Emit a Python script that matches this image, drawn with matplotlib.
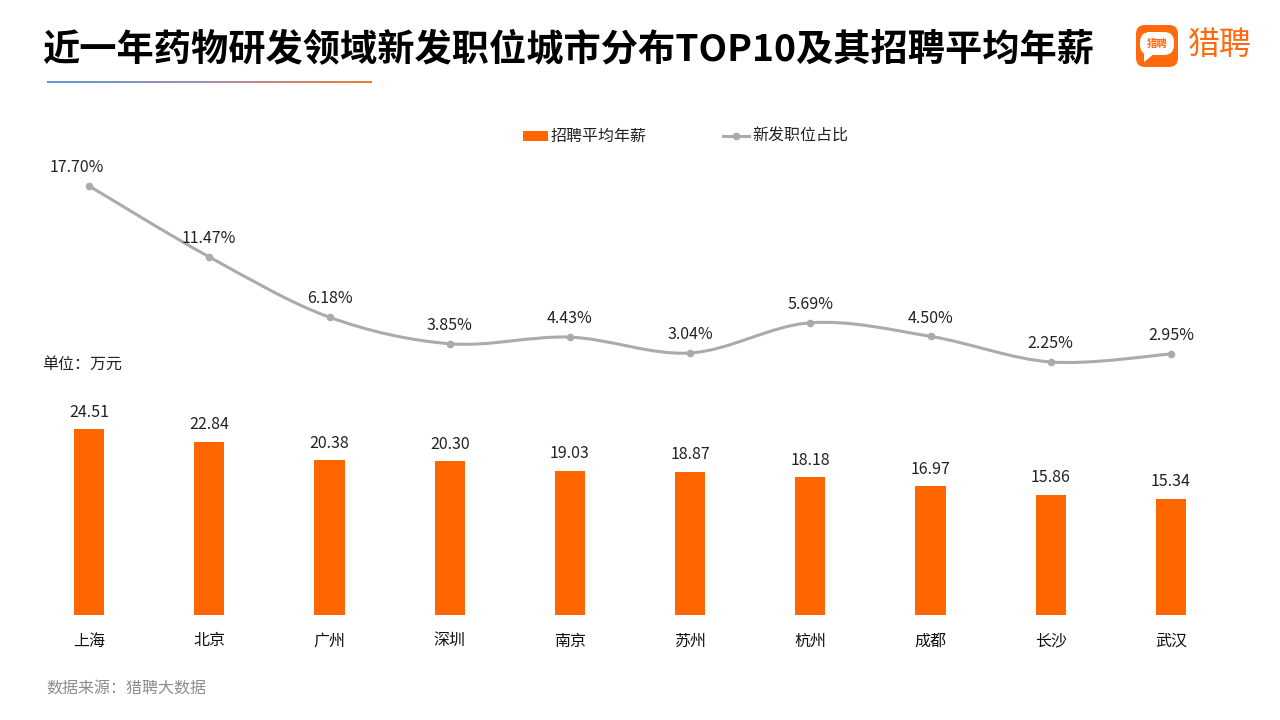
import matplotlib
matplotlib.use("Agg")
import matplotlib.pyplot as plt
import numpy as np
from matplotlib.path import Path
from matplotlib.patches import PathPatch, FancyBboxPatch, Rectangle
from matplotlib.lines import Line2D
from matplotlib.colors import LinearSegmentedColormap

plt.rcParams['font.family'] = ['Noto Sans CJK SC', 'DejaVu Sans']

cities = ["上海", "北京", "广州", "深圳", "南京", "苏州", "杭州", "成都", "长沙", "武汉"]
salary = [24.51, 22.84, 20.38, 20.30, 19.03, 18.87, 18.18, 16.97, 15.86, 15.34]
share = [17.70, 11.47, 6.18, 3.85, 4.43, 3.04, 5.69, 4.50, 2.25, 2.95]

title = "近一年药物研发领域新发职位城市分布TOP10及其招聘平均年薪"
legend_bar = "招聘平均年薪"
legend_line = "新发职位占比"
unit_text = "单位：万元"
source_text = "数据来源：猎聘大数据"

ORANGE = "#FF6600"
GRAY = "#ABABAB"
FS = 11.5

W, H = 1280, 720
fig = plt.figure(figsize=(12.8, 7.2), dpi=100)

def fx(px):
    return px / W

def fy(py):
    return 1 - py / H

left_px, right_px = 29, 1231
top_px, bot_px = 150, 615
ax = fig.add_axes([fx(left_px), fy(bot_px), fx(right_px - left_px), (bot_px - top_px) / H])
ax.set_xlim(-0.5, len(cities) - 0.5)
bar_scale = 7.59  # px per unit
ax.set_ylim(0, (bot_px - top_px) / bar_scale)
ax.axis("off")

x = np.arange(len(cities))
ax.bar(x, salary, width=0.25, color=ORANGE, zorder=2)
for xi, v in zip(x, salary):
    ax.annotate(f"{v:.2f}", (xi, v), xytext=(0, 6), textcoords="offset points",
                ha="center", va="bottom", fontsize=FS, color="#222222")
for xi, c in zip(x, cities):
    ax.text(xi, -26 / bar_scale, c, ha="center", va="center", fontsize=FS, color="#111111")

ax2 = ax.twinx()
ax2.axis("off")
line_scale = 11.39  # px per %
zero_px = 387.6
ax2.set_ylim(-(bot_px - zero_px) / line_scale, (zero_px - top_px) / line_scale)
ax2.set_xlim(-0.5, len(cities) - 0.5)

pts = np.column_stack([x, share]).astype(float)
verts = [tuple(pts[0])]
codes = [Path.MOVETO]
n = len(pts)
for i in range(n - 1):
    p0 = pts[i - 1] if i > 0 else pts[i]
    p1 = pts[i]
    p2 = pts[i + 1]
    p3 = pts[i + 2] if i + 2 < n else pts[i + 1]
    c1 = p1 + (p2 - p0) / 6
    c2 = p2 - (p3 - p1) / 6
    verts += [tuple(c1), tuple(c2), tuple(p2)]
    codes += [Path.CURVE4] * 3
ax2.add_patch(PathPatch(Path(verts, codes), fill=False, edgecolor=GRAY, lw=2.2, zorder=3))
ax2.plot(x, share, "o", color=GRAY, ms=4.5, zorder=4)
for xi, v in zip(x, share):
    dx = -9 if xi == 0 else 0
    ax2.annotate(f"{v:.2f}%", (xi, v), xytext=(dx, 7), textcoords="offset points",
                 ha="center", va="bottom", fontsize=FS, color="#222222")

fig.text(fx(42), fy(50), title, ha="left", va="center", fontsize=26.8, fontweight="heavy", color="#000000")

grad = np.linspace(0, 1, 256).reshape(1, -1)
cmap = LinearSegmentedColormap.from_list("g", ["#5B9BD5", "#A98FB0", "#ED7D31"])
gax = fig.add_axes([fx(47), fy(83.5), fx(372 - 47), 3 / H])
gax.imshow(grad, aspect="auto", cmap=cmap)
gax.axis("off")

lax = fig.add_axes([0, 0, 1, 1], facecolor="none")
lax.set_xlim(0, W)
lax.set_ylim(H, 0)
lax.axis("off")
lax.add_patch(FancyBboxPatch((1136, 25), 42, 42, boxstyle="round,pad=0,rounding_size=9",
                             facecolor="#FF6A0F", edgecolor="none"))
lax.add_patch(FancyBboxPatch((1140, 32), 34, 23, boxstyle="round,pad=0,rounding_size=10",
                             facecolor="white", edgecolor="none"))
lax.add_patch(plt.Polygon([[1144, 50], [1144, 62], [1155, 53]], closed=True, facecolor="white", edgecolor="none"))
lax.text(1157, 44, "猎聘", ha="center", va="center", fontsize=7.5, color="#FF6A0F", fontweight="bold")
lax.text(1188, 45, "猎聘", ha="left", va="center", fontsize=23, color="#FF6A0F")

lax.add_patch(Rectangle((523, 131), 25, 10, facecolor=ORANGE, edgecolor="none"))
lax.text(551, 136, legend_bar, ha="left", va="center", fontsize=FS, color="#222222")
lax.add_line(Line2D([723, 749], [136, 136], color=GRAY, lw=2.2))
lax.plot([736], [136], "o", color=GRAY, ms=4.5)
lax.text(752, 136, legend_line, ha="left", va="center", fontsize=FS, color="#222222")

lax.text(42, 364, unit_text, ha="left", va="center", fontsize=FS, color="#222222")
lax.text(46, 689, source_text, ha="left", va="center", fontsize=FS, color="#8C8C8C")

fig.savefig("out.png", dpi=100)
